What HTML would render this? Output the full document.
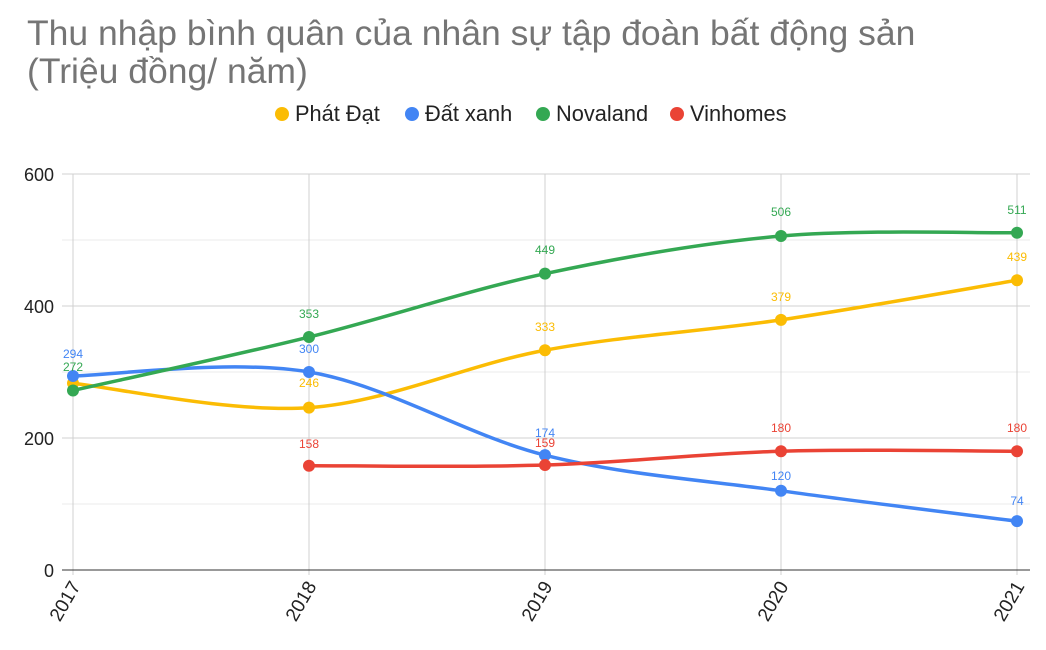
<!DOCTYPE html>
<html><head><meta charset="utf-8"><style>
body{margin:0;background:#fff;width:1046px;height:645px;overflow:hidden;font-family:"Liberation Sans",Arial,sans-serif}
</style></head><body>
<svg id="s" width="1046" height="645" xmlns="http://www.w3.org/2000/svg" font-family="Liberation Sans, Arial, sans-serif">
<text x="27" y="45" font-size="35.5" fill="#757575">Thu nhập bình quân của nhân sự tập đoàn bất động sản</text>
<text x="27" y="83" font-size="35.5" fill="#757575">(Triệu đồng/ năm)</text>
<g font-size="21.8" fill="#222">
<circle cx="282" cy="114" r="7" fill="#fbbc04"/><text x="295" y="121">Phát Đạt</text>
<circle cx="412" cy="114" r="7" fill="#4285f4"/><text x="425" y="121">Đất xanh</text>
<circle cx="543" cy="114" r="7" fill="#34a853"/><text x="556" y="121">Novaland</text>
<circle cx="677" cy="114" r="7" fill="#ea4335"/><text x="690" y="121">Vinhomes</text>
</g>
<g id="grid"></g><g id="series"></g>
</svg>
<script>
const s=document.getElementById('s'),NS='http://www.w3.org/2000/svg';
function el(t,a,p,txt){const e=document.createElementNS(NS,t);for(k in a)e.setAttribute(k,a[k]);if(txt!=null)e.textContent=txt;(p||s).appendChild(e);return e;}
const X=i=>73+236*i,Y=v=>570-v*0.66;
const g=document.getElementById('grid');
for(let v=0;v<=600;v+=100){el('line',{x1:62,x2:1030,y1:Y(v),y2:Y(v),stroke:v%200?'#ebebeb':'#d0d0d0','stroke-width':1},g);}
for(let i=0;i<5;i++)el('line',{x1:X(i),x2:X(i),y1:174,y2:575,stroke:'#d0d0d0'},g);
el('line',{x1:62,x2:1030,y1:570,y2:570,stroke:'#333'},g);
[0,200,400,600].forEach(v=>el('text',{x:54,y:Y(v)+7,'font-size':18,'text-anchor':'end',fill:'#222'},g,v));
[2017,2018,2019,2020,2021].forEach((y,i)=>el('text',{x:0,y:0,'font-size':19,fill:'#222','text-anchor':'end',transform:`translate(${X(i)+8},${586}) rotate(-60)`},g,y));
const data=[
['#fbbc04',[283,246,333,379,439]],
['#4285f4',[294,300,174,120,74]],
['#34a853',[272,353,449,506,511]],
['#ea4335',[null,158,159,180,180]]];
const sg=document.getElementById('series');
data.forEach(([c,v])=>{
 const p=[];v.forEach((y,i)=>{if(y!=null)p.push([X(i),Y(y),y]);});
 let d=`M${p[0][0]},${p[0][1]}`;
 for(let i=0;i<p.length-1;i++){const p0=p[i-1]||p[i],p1=p[i],p2=p[i+1],p3=p[i+2]||p2,t=1/3;
  d+=` C${p1[0]+(p2[0]-p0[0])*t/2},${p1[1]+(p2[1]-p0[1])*t/2} ${p2[0]-(p3[0]-p1[0])*t/2},${p2[1]-(p3[1]-p1[1])*t/2} ${p2[0]},${p2[1]}`;}
 el('path',{d,fill:'none',stroke:c,'stroke-width':3.5},sg);
 p.forEach(q=>el('circle',{cx:q[0],cy:q[1],r:6,fill:c},sg));
});
const labs=[['#fbbc04',[[1,246,387],[2,333,331],[3,379,301],[4,439,261]]],
['#4285f4',[[0,294,358],[1,300,353],[2,174,437],[3,120,480],[4,74,505]]],
['#34a853',[[0,272,371],[1,353,318],[2,449,254],[3,506,216],[4,511,214]]],
['#ea4335',[[1,158,448],[2,159,447],[3,180,432],[4,180,432]]]];
labs.forEach(([c,a])=>a.forEach(([i,v,y])=>el('text',{x:X(i),y:y,'font-size':12,fill:c,'text-anchor':'middle'},sg,v)));
</script>
</body></html>
